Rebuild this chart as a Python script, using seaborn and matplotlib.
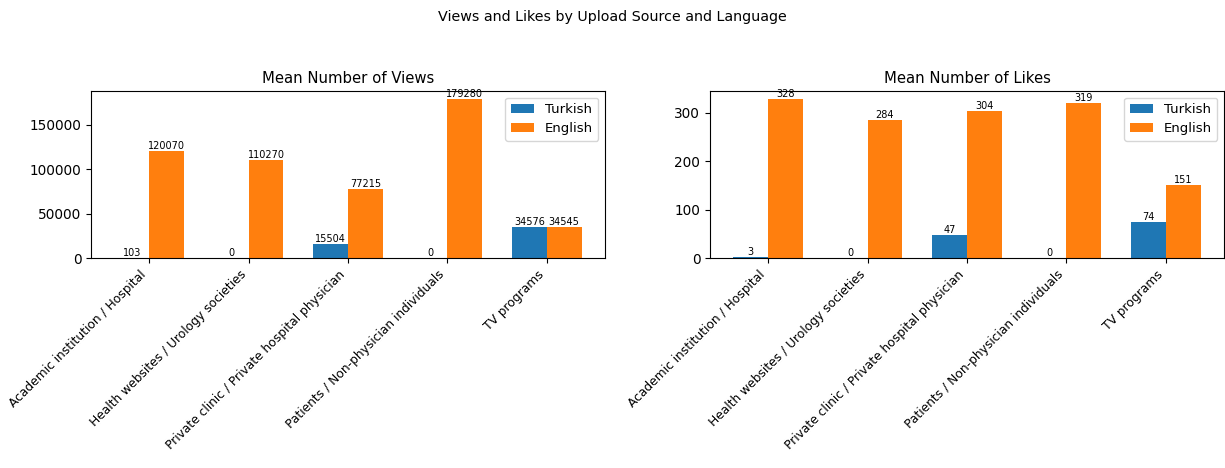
import matplotlib
matplotlib.use("Agg")
import matplotlib.pyplot as plt
import seaborn as sns
import pandas as pd

sources = [
    "Academic institution / Hospital",
    "Health websites / Urology societies",
    "Private clinic / Private hospital physician",
    "Patients / Non-physician individuals",
    "TV programs",
]
languages = ["Turkish", "English"]
views_turkish = [103, 0, 15504, 0, 34576]
views_english = [120070, 110270, 77215, 179280, 34545]
likes_turkish = [3, 0, 47, 0, 74]
likes_english = [328, 284, 304, 319, 151]
colors = ["#1f77b4", "#ff7f0e"]


def make_df(tr, en):
    rows = []
    for s, v in zip(sources, tr):
        rows.append({"Source": s, "Language": "Turkish", "Value": v})
    for s, v in zip(sources, en):
        rows.append({"Source": s, "Language": "English", "Value": v})
    return pd.DataFrame(rows)


fig = plt.figure(figsize=(12.25, 4.68), dpi=100)
ax1 = fig.add_axes([91 / 1225, 1 - 258 / 468, 514 / 1225, 167 / 468])
ax2 = fig.add_axes([710 / 1225, 1 - 258 / 468, 514 / 1225, 167 / 468])

for ax, tr, en, title in [
    (ax1, views_turkish, views_english, "Mean Number of Views"),
    (ax2, likes_turkish, likes_english, "Mean Number of Likes"),
]:
    df = make_df(tr, en)
    sns.barplot(data=df, x="Source", y="Value", hue="Language", hue_order=languages,
                order=sources, palette=colors, saturation=1, width=0.7,
                errorbar=None, linewidth=0, ax=ax)
    for c in ax.containers:
        ax.bar_label(c, fmt="%d", fontsize=7)
    ax.set_xlim(-0.585, 4.585)
    ax.set_xlabel("")
    ax.set_ylabel("")
    ax.set_title(title, fontsize=10.7)
    ax.set_xticks(range(len(sources)))
    ax.set_xticklabels(sources, rotation=45, ha="right", fontsize=8.8)
    ax.tick_params(axis="y", labelsize=9.8)
    handles, labels = ax.get_legend_handles_labels()
    if ax.get_legend() is not None:
        ax.get_legend().remove()
    ax.legend(handles, labels, loc="upper right", fontsize=9.5, handlelength=1.8)

fig.suptitle("Views and Likes by Upload Source and Language", fontsize=10.3, y=0.978)
fig.savefig("out.png", dpi=100)
